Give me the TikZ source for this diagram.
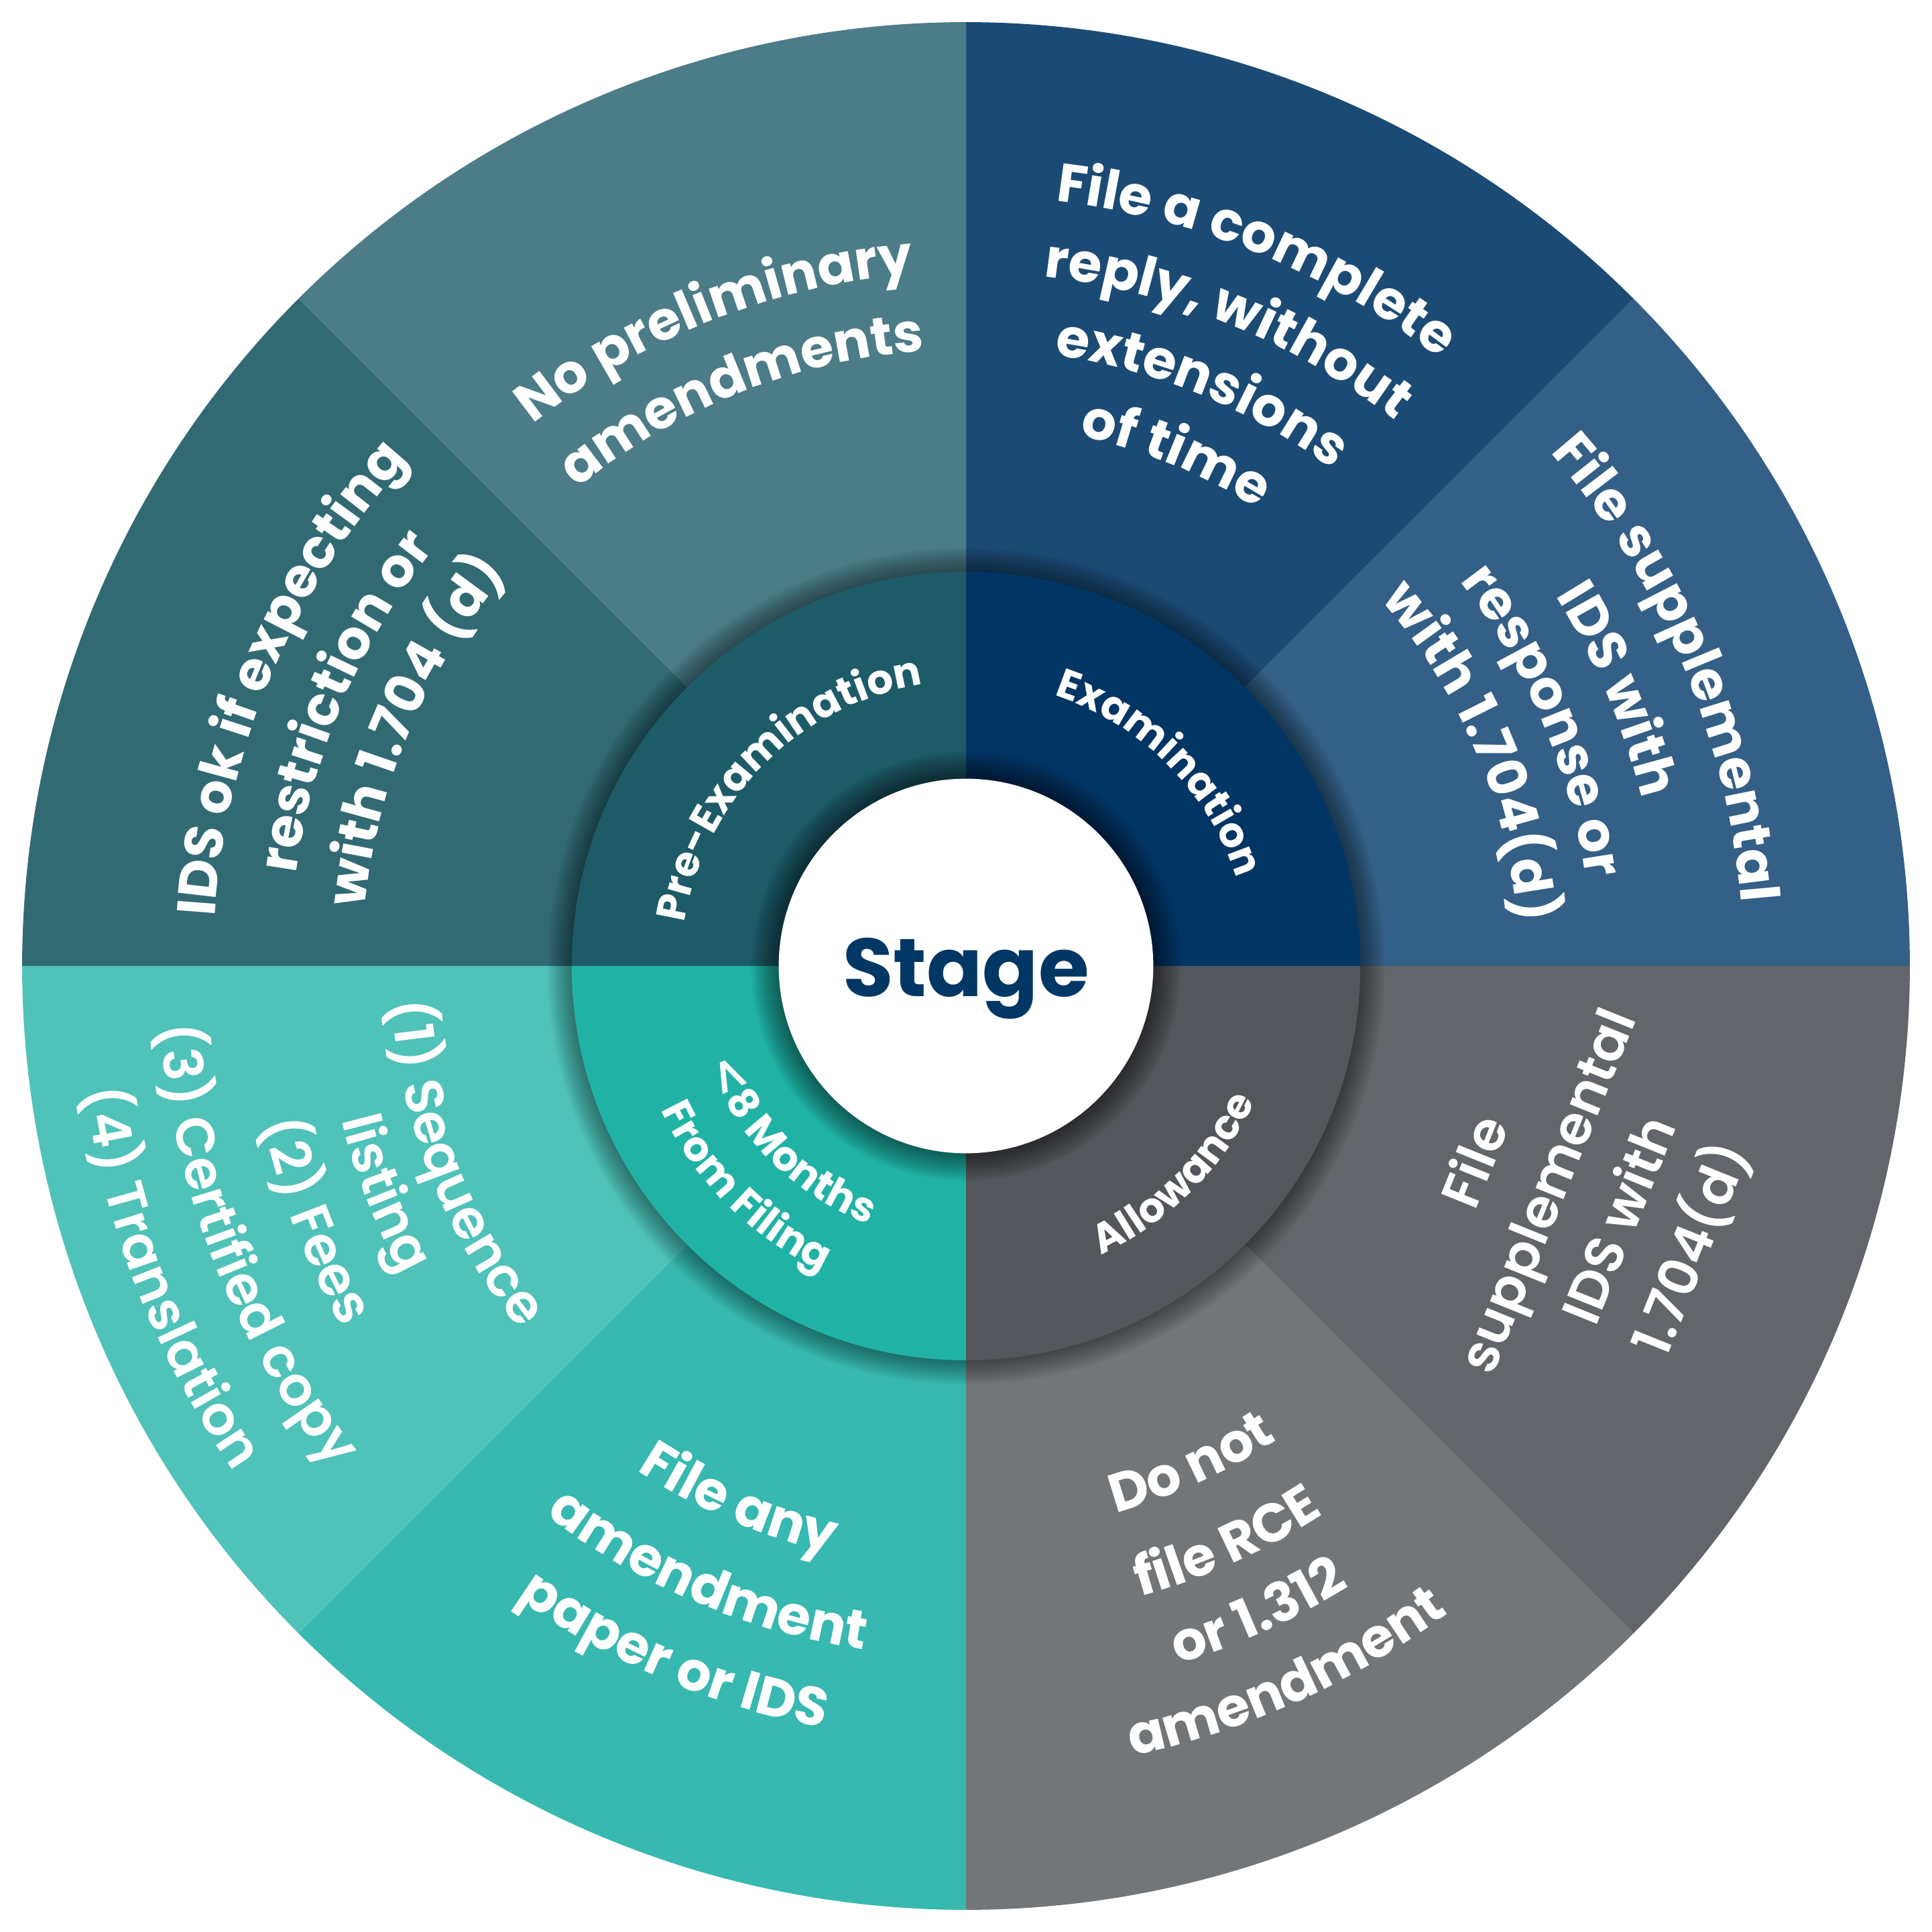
\documentclass[tikz,border=0pt]{standalone}
\usepackage{fontspec}
\setmainfont{Poppins}
\newfontfamily\medfont{Poppins SemiBold}
\newfontfamily\signfont{DejaVu Sans}
\usetikzlibrary{decorations.text}

\definecolor{suppids}{HTML}{345F86}
\definecolor{reply}{HTML}{1B4B74}
\definecolor{preamend}{HTML}{4B7C87}
\definecolor{idsok}{HTML}{326A74}
\definecolor{seqlist}{HTML}{4FC2B9}
\definecolor{anyamend}{HTML}{37B8B0}
\definecolor{norce}{HTML}{737679}
\definecolor{allowids}{HTML}{626569}
\definecolor{exam}{HTML}{013564}
\definecolor{preexam}{HTML}{1D5B69}
\definecolor{months}{HTML}{21B2A6}
\definecolor{allow}{HTML}{53565B}
\definecolor{stagetext}{HTML}{003764}

\tikzset{
  boldarc/.style={decorate,decoration={text along path,text align=center,
    text={|\bfseries\fontsize{12.5}{15}\selectfont\color{white}|#1}}},
  medarc/.style={decorate,decoration={text along path,text align=center,
    text={|\medfont\fontsize{12.5}{15}\selectfont\color{white}|#1}}},
  ringarc/.style={decorate,decoration={text along path,text align=center,
    text={|\bfseries\fontsize{9.5}{11}\selectfont\color{white}|#1}}},
}

\begin{document}
\begin{tikzpicture}
	\useasboundingbox (-7.84,-7.84) rectangle (7.84,7.84);
	\fill[white] (-7.84,-7.84) rectangle (7.84,7.84);

	% outer ring
	\fill[suppids] (0,0) -- (0:7.66) arc[start angle=0,end angle=45,radius=7.66] -- cycle;
	\fill[reply] (0,0) -- (45:7.66) arc[start angle=45,end angle=90,radius=7.66] -- cycle;
	\fill[preamend] (0,0) -- (90:7.66) arc[start angle=90,end angle=135,radius=7.66] -- cycle;
	\fill[idsok] (0,0) -- (135:7.66) arc[start angle=135,end angle=180,radius=7.66] -- cycle;
	\fill[seqlist] (0,0) -- (180:7.66) arc[start angle=180,end angle=225,radius=7.66] -- cycle;
	\fill[anyamend] (0,0) -- (225:7.66) arc[start angle=225,end angle=270,radius=7.66] -- cycle;
	\fill[norce] (0,0) -- (270:7.66) arc[start angle=270,end angle=315,radius=7.66] -- cycle;
	\fill[allowids] (0,0) -- (315:7.66) arc[start angle=315,end angle=360,radius=7.66] -- cycle;

	% soft shadow round the stage ring
	\foreach \k in {1,...,14}
		\fill[black,opacity=0.03] (0,0) circle ({3.2+0.014*\k});

	% stage ring
	\fill[exam] (0,0) -- (0:3.2) arc[start angle=0,end angle=90,radius=3.2] -- cycle;
	\fill[preexam] (0,0) -- (90:3.2) arc[start angle=90,end angle=180,radius=3.2] -- cycle;
	\fill[months] (0,0) -- (180:3.2) arc[start angle=180,end angle=270,radius=3.2] -- cycle;
	\fill[allow] (0,0) -- (270:3.2) arc[start angle=270,end angle=360,radius=3.2] -- cycle;

	\foreach \k in {1,...,14}
		\fill[black,opacity=0.04] (0,0) circle ({1.52+0.016*\k});
	\fill[white] (0,0) circle (1.52);
	\node[font=\bfseries\fontsize{19}{22}\selectfont,text=stagetext] (stage) at (0,-0.1) {Stage};

	% ring labels
	\path[ringarc={Pre-Examination}] (195:2.31) arc[start angle=195,end angle=75,radius=2.31];
	\path[ringarc={Examination}] (105:2.31) arc[start angle=105,end angle=-15,radius=2.31];
	\path[ringarc={Allowance}] (255:2.59) arc[start angle=255,end angle=375,radius=2.59];
	\path[ringarc={{\signfont\fontsize{11}{13}\selectfont<}8 Months}] (165:2.24) arc[start angle=165,end angle=285,radius=2.24];
	\path[ringarc={From Filing}] (165:2.74) arc[start angle=165,end angle=285,radius=2.74];

	% examination, reply
	\path[boldarc={File a complete}] (107.7:6.25) arc[start angle=107.7,end angle=27.7,radius=6.25];
	\path[boldarc={reply, without}] (107.7:5.63) arc[start angle=107.7,end angle=27.7,radius=5.63];
	\path[boldarc={extensions}] (107.7:5.01) arc[start angle=107.7,end angle=27.7,radius=5.01];
	\path[boldarc={of time}] (107.7:4.40) arc[start angle=107.7,end angle=27.7,radius=4.40];

	% examination, supplemental IDS
	\path[boldarc={File supplemental}] (63:6.31) arc[start angle=63,end angle=-17,radius=6.31];
	\path[boldarc={IDS with}] (63:5.65) arc[start angle=63,end angle=-17,radius=5.65];
	\path[boldarc={response or}] (63:5.08) arc[start angle=63,end angle=-17,radius=5.08];
	\path[boldarc={with 1.704(d)}] (63:4.49) arc[start angle=63,end angle=-17,radius=4.49];

	% pre-examination
	\path[boldarc={No preliminary}] (151.5:5.63) arc[start angle=151.5,end angle=71.5,radius=5.63];
	\path[boldarc={amendments}] (151.5:5.00) arc[start angle=151.5,end angle=71.5,radius=5.00];

	\path[boldarc={IDS ok if expecting}] (197:6.11) arc[start angle=197,end angle=117,radius=6.11];
	\path[boldarc={restriction or}] (197:5.49) arc[start angle=197,end angle=117,radius=5.49];
	\path[boldarc={with 1.704 (d)}] (197:4.90) arc[start angle=197,end angle=117,radius=4.90];

	% first eight months
	\path[medarc={(1) Sequence}] (161.3:4.67) arc[start angle=161.3,end angle=241.3,radius=4.67];
	\path[medarc={listing}] (161.3:5.22) arc[start angle=161.3,end angle=241.3,radius=5.22];
	\path[medarc={(2) Fees}] (161.3:5.85) arc[start angle=161.3,end angle=241.3,radius=5.85];
	\path[medarc={(3) Certified copy}] (161.3:6.56) arc[start angle=161.3,end angle=241.3,radius=6.56];
	\path[medarc={(4) Translation}] (161.3:7.22) arc[start angle=161.3,end angle=241.3,radius=7.22];

	\path[boldarc={File any}] (207:4.89) arc[start angle=207,end angle=287,radius=4.89];
	\path[boldarc={amendment}] (207:5.61) arc[start angle=207,end angle=287,radius=5.61];
	\path[boldarc={paper or IDS}] (207:6.29) arc[start angle=207,end angle=287,radius=6.29];

	% allowance
	\path[boldarc={Do not}] (254.3:4.60) arc[start angle=254.3,end angle=334.3,radius=4.60];
	\path[boldarc={file RCE}] (254.3:5.31) arc[start angle=254.3,end angle=334.3,radius=5.31];
	\path[boldarc={or 1.312}] (254.3:5.92) arc[start angle=254.3,end angle=334.3,radius=5.92];
	\path[boldarc={amendment}] (254.3:6.55) arc[start angle=254.3,end angle=334.3,radius=6.55];

	\node[font=\medfont\fontsize{12.5}{17.9}\selectfont,text=white,align=center,rotate=68]
		(allowtext) at (5.03,-1.95) {File\\supplemental\\IDS with\\1.704(d)};
\end{tikzpicture}
\end{document}
